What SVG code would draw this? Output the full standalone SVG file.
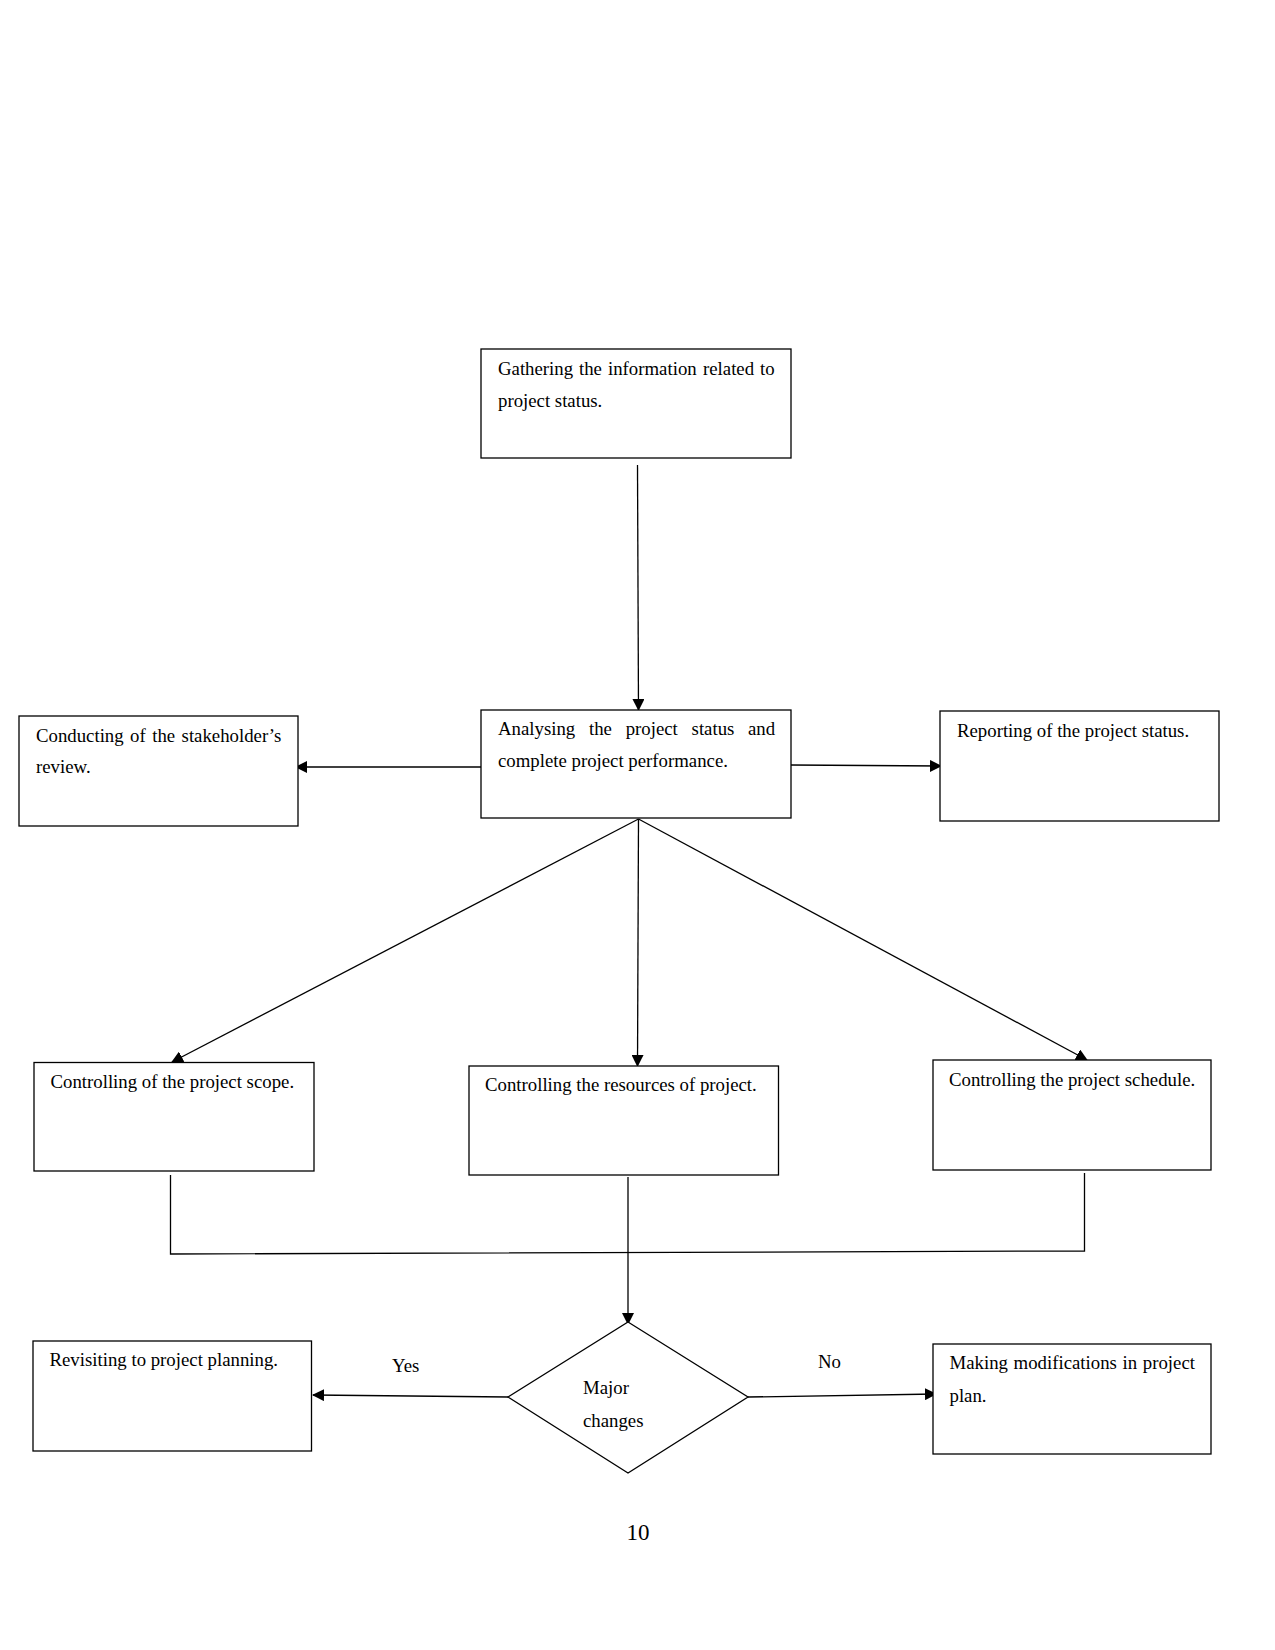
<svg xmlns="http://www.w3.org/2000/svg" width="1275" height="1650" viewBox="0 0 1275 1650">
<style>
.box{fill:#fff;stroke:#000;stroke-width:1.3}
.t{font-family:"Liberation Serif","Times New Roman",serif;font-size:18.8px;fill:#000}
.ln{fill:none;stroke:#000;stroke-width:1.3}
</style>
<defs>
<marker id="ah" markerUnits="userSpaceOnUse" markerWidth="12" markerHeight="12" refX="11" refY="6" orient="auto" viewBox="0 0 12 12">
<path d="M0,0 L12,6 L0,12 z" fill="#000"/>
</marker>
</defs>
<rect width="1275" height="1650" fill="#fff"/>
<g id="connectors">
<line class="ln" x1="637.5" y1="465" x2="638.5" y2="710" marker-end="url(#ah)"/>
<line class="ln" x1="481" y1="767" x2="296" y2="767" marker-end="url(#ah)"/>
<line class="ln" x1="791" y1="765" x2="941" y2="766" marker-end="url(#ah)"/>
<line class="ln" x1="638.5" y1="819" x2="172" y2="1062" marker-end="url(#ah)"/>
<line class="ln" x1="638.5" y1="819" x2="637.5" y2="1066" marker-end="url(#ah)"/>
<line class="ln" x1="638.5" y1="819" x2="1087" y2="1060" marker-end="url(#ah)"/>
<polyline class="ln" points="170.5,1175 170.5,1254 1084.5,1251 1084.5,1173"/>
<line class="ln" x1="628" y1="1177" x2="628" y2="1324" marker-end="url(#ah)"/>
<line class="ln" x1="508" y1="1397" x2="313" y2="1395" marker-end="url(#ah)"/>
<line class="ln" x1="748" y1="1397" x2="936" y2="1394" marker-end="url(#ah)"/>
<text class="t" x="392" y="1372">Yes</text>
<text class="t" x="818" y="1368">No</text>
</g>
<g id="n1">
<rect class="box" x="481" y="349" width="310" height="109"/>
<text class="t" y="375"><tspan x="498">Gathering</tspan><tspan x="579">the</tspan><tspan x="608">information</tspan><tspan x="703">related</tspan><tspan x="760">to</tspan></text>
<text class="t" x="498" y="407">project status.</text>
</g>
<g id="n2">
<rect class="box" x="481" y="710" width="310" height="108"/>
<text class="t" y="735"><tspan x="498">Analysing</tspan><tspan x="589">the</tspan><tspan x="625.7">project</tspan><tspan x="691.6">status</tspan><tspan x="748">and</tspan></text>
<text class="t" x="498" y="767">complete project performance.</text>
</g>
<g id="n3">
<rect class="box" x="19" y="716" width="279" height="110"/>
<text class="t" y="742"><tspan x="36">Conducting</tspan><tspan x="130">of</tspan><tspan x="152.2">the</tspan><tspan x="181.6">stakeholder’s</tspan></text>
<text class="t" x="36" y="773">review.</text>
</g>
<g id="n4">
<rect class="box" x="940" y="711" width="279" height="110"/>
<text class="t" x="957" y="736.5">Reporting of the project status.</text>
</g>
<g id="n5">
<rect class="box" x="34" y="1062.5" width="280" height="108.5"/>
<text class="t" x="50.5" y="1088">Controlling of the project scope.</text>
</g>
<g id="n6">
<rect class="box" x="469" y="1066" width="309.5" height="109"/>
<text class="t" x="485" y="1091">Controlling the resources of project.</text>
</g>
<g id="n7">
<rect class="box" x="933" y="1060" width="278" height="110"/>
<text class="t" x="949" y="1086">Controlling the project schedule.</text>
</g>
<g id="n8">
<polygon class="box" points="628,1322 748,1397 628,1473 508,1397"/>
<text class="t" x="583" y="1394">Major</text>
<text class="t" x="583" y="1427">changes</text>
</g>
<g id="n9">
<rect class="box" x="33" y="1341" width="278.5" height="110"/>
<text class="t" x="49.5" y="1366">Revisiting to project planning.</text>
</g>
<g id="n10">
<rect class="box" x="933" y="1344" width="278" height="110"/>
<text class="t" y="1369"><tspan x="949.5">Making</tspan><tspan x="1013.6">modifications</tspan><tspan x="1122.6">in</tspan><tspan x="1142.8">project</tspan></text>
<text class="t" x="949.5" y="1402">plan.</text>
</g>
<text class="t" x="626.5" y="1540" style="font-size:23px">10</text>
</svg>
